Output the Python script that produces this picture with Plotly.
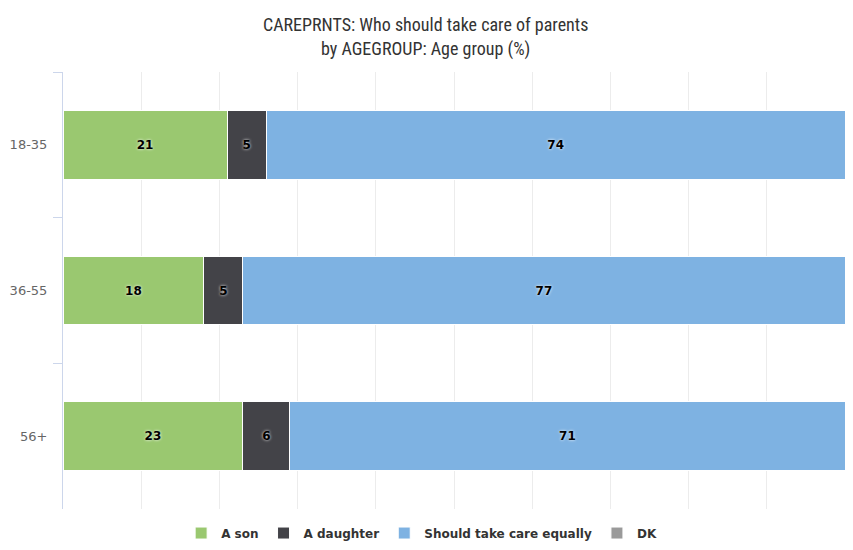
import plotly.graph_objects as go

categories = ["18-35", "36-55", "56+"]
a_son = [21, 18, 23]
a_daughter = [5, 5, 6]
equally = [74, 77, 71]
dk = [0, 0, 0]

series = [
    ("A son", a_son, "#9ac870"),
    ("A daughter", a_daughter, "#434348"),
    ("Should take care equally", equally, "#7eb2e2"),
    ("DK", dk, "#9a9a9a"),
]

fig = go.Figure()
for name, vals, color in series:
    fig.add_trace(go.Bar(
        y=categories, x=vals, name=name, orientation="h",
        marker=dict(color=color, line=dict(color="white", width=1)),
        text=[str(v) if v > 0 else "" for v in vals],
        textposition="inside", insidetextanchor="middle",
        textangle=0,
        textfont=dict(family="DejaVu Sans", size=12, color="#000000",
                      weight="bold", shadow="0px 0px 3px #ffffff"),
        hoverinfo="x+name",
    ))

fig.update_layout(
    barmode="stack",
    width=837, height=534,
    paper_bgcolor="white", plot_bgcolor="white",
    margin=dict(l=55, r=0, t=64, b=33, autoexpand=False),
    bargap=0.53,
    title=dict(
        text="CAREPRNTS: Who should take care of parents<br>by AGEGROUP: Age group (%)",
        xref="container", x=0.499, xanchor="center",
        yref="container", y=0.956, yanchor="middle",
        font=dict(family="Liberation Sans Narrow, Roboto Condensed, Liberation Sans", size=18, color="#333333"),
    ),
    legend=dict(
        orientation="h", x=0.4586, xanchor="center", y=-0.055, yanchor="middle",
        font=dict(family="DejaVu Sans", size=12, color="#333333", weight="bold"),
        traceorder="normal",
    ),
    uniformtext=dict(mode="show", minsize=8),
)
fig.update_xaxes(range=[0, 100], dtick=10, showticklabels=False,
                 showgrid=True, gridcolor="#ececec", gridwidth=1,
                 zeroline=False, showline=False)
fig.update_yaxes(autorange="reversed", showgrid=False,
                 showline=True, linecolor="#ccd6eb", linewidth=1,
                 ticks="outside", tickson="boundaries", ticklen=9, tickcolor="#ccd6eb",
                 tickfont=dict(family="DejaVu Sans", size=13, color="#666666"),
                 ticklabelstandoff=12)

fig.write_html("out.html")
